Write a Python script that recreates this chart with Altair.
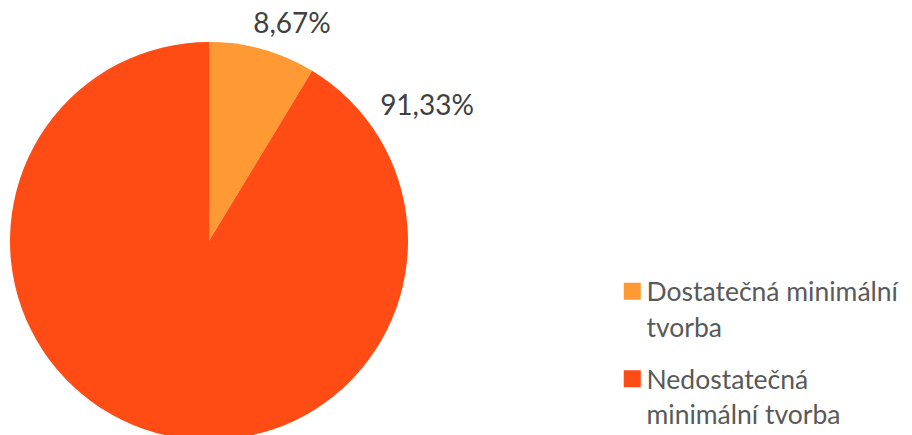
import altair as alt
import pandas as pd

categories = ["Dostatečná minimální tvorba", "Nedostatečná minimální tvorba"]
values = [8.67, 91.33]
labels = ["8,67%", "91,33%"]
colors = ["#FF9933", "#FF4B14"]

df = pd.DataFrame({"kat": categories, "val": values, "lab": labels, "order": [0, 1]})

color = alt.Color(
    "kat:N",
    scale=alt.Scale(domain=categories, range=colors),
    legend=alt.Legend(
        title=None,
        orient="none",
        legendX=611,
        legendY=270,
        symbolType="square",
        symbolSize=289,
        symbolStrokeWidth=0,
        labelFont="Lato",
        labelFontSize=26.5,
        labelColor="#595959",
        labelLimit=400,
        labelBaseline="top",
        labelOffset=1,
        rowPadding=22.5,
        labelExpr="split(datum.label == 'Dostatečná minimální tvorba' ? 'Dostatečná minimální|tvorba' : 'Nedostatečná|minimální tvorba', '|')",
    ),
)

pie = alt.Chart(df).mark_arc(outerRadius=199, stroke=None).encode(
    theta=alt.Theta("val:Q", stack=True),
    color=color,
    order=alt.Order("order:Q"),
    x=alt.value(201),
    y=alt.value(233),
)

lab1 = alt.Chart(df[df["order"] == 0]).mark_text(
    font="Lato", fontSize=28, color="#404040", align="center", baseline="alphabetic"
).encode(text="lab:N", x=alt.value(284), y=alt.value(25))

lab2 = alt.Chart(df[df["order"] == 1]).mark_text(
    font="Lato", fontSize=28, color="#404040", align="center", baseline="alphabetic"
).encode(text="lab:N", x=alt.value(419), y=alt.value(107))

chart = alt.layer(pie, lab1, lab2).properties(
    width=896, height=427, padding=0, autosize=alt.AutoSizeParams(type="none")
).configure(
    view=alt.ViewConfig(stroke=None),
    style={"guide-label": {"lineHeight": 35.5, "dy": -11}},
)

chart.save("out.html", embed_options={"renderer": "svg", "actions": False})
